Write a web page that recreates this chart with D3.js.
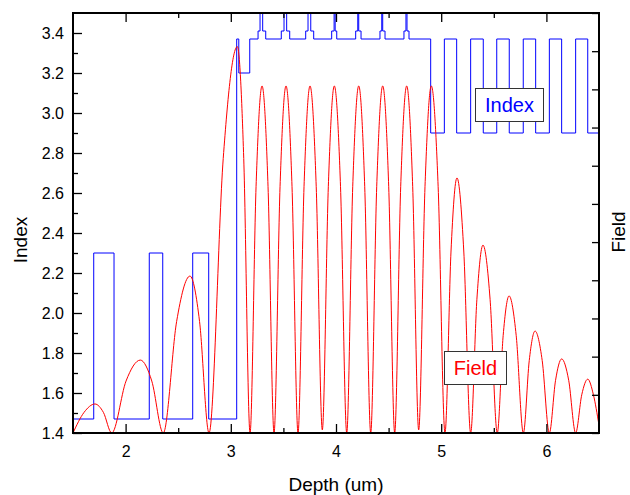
<!DOCTYPE html>
<html><head><meta charset="utf-8">
<script src="https://cdn.jsdelivr.net/npm/d3@7/dist/d3.min.js"></script>
<style>
body{margin:0;background:#fff}
text{font-family:"Liberation Sans",Arial,sans-serif}
</style>
</head><body>
<svg id="chart" width="630" height="495"></svg>
<script>
// ---- Data ----
// Refractive index profile: layer start position (um) and index of that layer
const indexX = [1.500,1.697,1.890,2.225,2.353,2.638,2.790,3.056,3.076,3.180,
  3.259,3.278,3.303,3.332, 3.480,3.506,3.531,3.560, 3.712,3.734,3.760,3.788,
  3.959,3.982,3.992,4.007, 4.187,4.207,4.216,4.238, 4.418,4.435,4.444,4.466,
  4.646,4.665,4.675,4.694, 4.900,5.030,5.147,5.280,5.400,5.528,5.647,5.780,
  5.898,6.028,6.145,6.278,6.393,6.500];
const indexN = [1.47,2.30,1.47,2.30,1.47,2.30,1.47,3.37,3.20,3.37,
  3.41,3.60,3.41,3.37, 3.41,3.60,3.41,3.37, 3.41,3.60,3.41,3.37,
  3.41,3.60,3.41,3.37, 3.41,3.60,3.41,3.37, 3.41,3.60,3.41,3.37,
  3.41,3.60,3.41,3.37, 2.90,3.37,2.90,3.37,2.90,3.37,2.90,3.37,
  2.90,3.37,2.90,3.37,2.90,2.90];

// Field amplitude (right axis, unlabeled)
const fieldX = [1.500,1.605,1.709,1.789,1.868, 2.004,2.140,2.249,2.358,
  2.485,2.612,2.703,2.793, 2.928,3.062,3.123,3.183, 3.240,3.297,3.354,3.411,
  3.468,3.525,3.582,3.639, 3.696,3.753,3.812,3.870, 3.927,3.984,4.043,4.102,
  4.159,4.216,4.273,4.330, 4.387,4.444,4.501,4.558, 4.615,4.672,4.729,4.786,
  4.846,4.906,4.971,5.036, 5.093,5.150,5.215,5.280, 5.339,5.397,5.465,5.533,
  5.589,5.645,5.713,5.781, 5.837,5.892,5.960,6.028, 6.087,6.145,6.212,6.278,
  6.336,6.393,6.447,6.500];
const fieldY = [0,0.054,0.076,0.054,0, 0.136,0.191,0.136,0,
  0.292,0.411,0.292,0, 0.719,1.012,0.719,0, 0.645,0.909,0.645,0,
  0.645,0.909,0.645,0, 0.645,0.909,0.645,0.008, 0.645,0.909,0.645,0,
  0.645,0.909,0.645,0, 0.645,0.909,0.645,0, 0.645,0.909,0.645,0.008,
  0.645,0.909,0.645,0, 0.474,0.668,0.474,0, 0.349,0.492,0.349,0,
  0.255,0.359,0.255,0, 0.190,0.267,0.190,0, 0.138,0.194,0.138,0,
  0.100,0.141,0.100,0.02];

const xTicks = [2,3,4,5,6];
const xMinorTicks = [2.5,3.5,4.5,5.5];
const yTicks = [1.4,1.6,1.8,2.0,2.2,2.4,2.6,2.8,3.0,3.2,3.4];
const yMinorTicks = [1.5,1.7,1.9,2.1,2.3,2.5,2.7,2.9,3.1,3.3];
const fieldTicks = [0,0.1,0.2,0.3,0.4,0.5,0.6,0.7,0.8,0.9,1.0,1.1];
const xDomain = [1.5,6.5];
const yDomain = [1.4,3.5];
const fieldDomain = [0,1.1];
const xTitle = "Depth (um)";
const yTitle = "Index";
const y2Title = "Field";
const legendIndex = "Index";
const legendField = "Field";

// ---- Layout ----
const L = 73, R = 599, T = 13, B = 433;
const svg = d3.select("#chart");
const x = d3.scaleLinear().domain(xDomain).range([L, R]);
const y = d3.scaleLinear().domain(yDomain).range([B, T]);
const yF = d3.scaleLinear().domain(fieldDomain).range([B, T]);

svg.append("defs").append("clipPath").attr("id","clip")
  .append("rect").attr("x",L).attr("y",T).attr("width",R-L).attr("height",B-T);

const plot = svg.append("g").attr("clip-path","url(#clip)");

const idxData = indexX.map((v,i)=>[v,indexN[i]]);
plot.append("path").datum(idxData)
  .attr("fill","none").attr("stroke","#0000ff").attr("stroke-width",1)
  .attr("d", d3.line().x(d=>x(d[0])).y(d=>y(d[1])).curve(d3.curveStepAfter));

const fData = fieldX.map((v,i)=>[v,fieldY[i]]);
plot.append("path").datum(fData)
  .attr("fill","none").attr("stroke","#ff0000").attr("stroke-width",1)
  .attr("d", d3.line().x(d=>x(d[0])).y(d=>yF(d[1])).curve(d3.curveMonotoneX));

// ---- Axes ----
const fmt = d3.format(".1f");
function styleAxis(g){
  g.select(".domain").remove();
  g.selectAll(".tick line").attr("stroke","#000").attr("stroke-width",1.3);
  g.selectAll("text").attr("font-size",16).attr("fill","#000")
    .attr("font-family","'Liberation Sans',Arial,sans-serif");
}
svg.append("g").attr("transform",`translate(0,${B})`)
  .call(d3.axisBottom(x).tickValues(xTicks).tickSize(-9).tickPadding(13).tickFormat(d3.format("d")))
  .call(styleAxis);
svg.append("g").attr("transform",`translate(0,${B})`)
  .call(d3.axisBottom(x).tickValues(xMinorTicks).tickSize(-5).tickFormat(""))
  .call(styleAxis);
svg.append("g").attr("transform",`translate(0,${T})`)
  .call(d3.axisTop(x).tickValues(xTicks).tickSize(-9).tickFormat(""))
  .call(styleAxis);
svg.append("g").attr("transform",`translate(0,${T})`)
  .call(d3.axisTop(x).tickValues(xMinorTicks).tickSize(-5).tickFormat(""))
  .call(styleAxis);
svg.append("g").attr("transform",`translate(${L},0)`)
  .call(d3.axisLeft(y).tickValues(yTicks).tickSize(-9).tickPadding(9).tickFormat(fmt))
  .call(styleAxis);
svg.append("g").attr("transform",`translate(${L},0)`)
  .call(d3.axisLeft(y).tickValues(yMinorTicks).tickSize(-5).tickFormat(""))
  .call(styleAxis);
svg.append("g").attr("transform",`translate(${R},0)`)
  .call(d3.axisRight(yF).tickValues(fieldTicks).tickSize(-7).tickFormat(""))
  .call(styleAxis);

// frame
svg.append("rect").attr("x",L).attr("y",T).attr("width",R-L).attr("height",B-T)
  .attr("fill","none").attr("stroke","#000").attr("stroke-width",2);

// titles
svg.append("text").attr("x",(L+R)/2).attr("y",491).attr("text-anchor","middle")
  .attr("font-size",19).text(xTitle);
svg.append("text").attr("transform","translate(27,240) rotate(-90)")
  .attr("text-anchor","middle").attr("font-size",19).text(yTitle);
svg.append("text").attr("transform","translate(625,232) rotate(-90)")
  .attr("text-anchor","middle").attr("font-size",19).text(y2Title);

// legend boxes
svg.append("rect").attr("x",475.5).attr("y",88.5).attr("width",68).attr("height",33)
  .attr("fill","#fff").attr("stroke","#333").attr("stroke-width",1);
svg.append("text").attr("x",509.5).attr("y",112).attr("text-anchor","middle")
  .attr("font-size",20).attr("fill","#0000ff").text(legendIndex);
svg.append("rect").attr("x",444.5).attr("y",351.5).attr("width",62).attr("height",33)
  .attr("fill","#fff").attr("stroke","#333").attr("stroke-width",1);
svg.append("text").attr("x",475.5).attr("y",375).attr("text-anchor","middle")
  .attr("font-size",20).attr("fill","#ff0000").text(legendField);
</script>
</body></html>
